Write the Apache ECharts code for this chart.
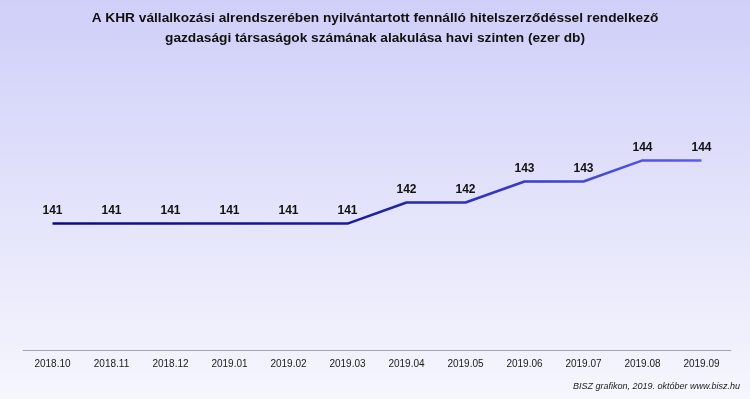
<!DOCTYPE html>
<html>
<head>
<meta charset="utf-8">
<script src="https://cdn.jsdelivr.net/npm/echarts@6/dist/echarts.min.js"></script>
<style>
  html, body { margin: 0; padding: 0; }
  #chart { width: 750px; height: 399px; }
</style>
</head>
<body>
<div id="chart"></div>
<script>
const months = ['2018.10', '2018.11', '2018.12', '2019.01', '2019.02', '2019.03',
  '2019.04', '2019.05', '2019.06', '2019.07', '2019.08', '2019.09'];
const companies = [141, 141, 141, 141, 141, 141, 142, 142, 143, 143, 144, 144];

const titleText = 'A KHR vállalkozási alrendszerében nyilvántartott fennálló hitelszerződéssel rendelkező\n'
  + 'gazdasági társaságok számának alakulása havi szinten (ezer db)';
const sourceText = 'BISZ grafikon, 2019. október www.bisz.hu';

const font = '"Liberation Sans", sans-serif';

const chart = echarts.init(document.getElementById('chart'));

chart.setOption({
  animation: false,
  backgroundColor: new echarts.graphic.LinearGradient(0, 0, 0, 1, [
    { offset: 0, color: '#cfcff9' },
    { offset: 1, color: '#f6f6fd' },
  ]),
  title: [
    {
      text: titleText,
      left: 'center',
      top: 8,
      padding: 0,
      textStyle: { fontFamily: font, fontSize: 13.7, fontWeight: 'bold', color: '#111', lineHeight: 20 },
    },
    {
      text: sourceText,
      right: 10,
      top: 382,
      padding: 0,
      textStyle: { fontFamily: font, fontSize: 9, fontStyle: 'italic', fontWeight: 'normal', color: '#222' },
    },
  ],
  grid: { left: 23, right: 19, top: 34, bottom: 49 },
  xAxis: {
    type: 'category',
    data: months,
    axisLine: { lineStyle: { color: '#a4a4b8', width: 1 } },
    axisTick: { show: false },
    axisLabel: { fontFamily: font, fontSize: 10, color: '#1a1a1a', margin: 9 },
  },
  yAxis: {
    type: 'value',
    min: 135,
    max: 150,
    show: false,
    splitLine: { show: false },
  },
  series: [
    {
      type: 'line',
      data: companies,
      symbol: 'circle',
      symbolSize: 1,
      itemStyle: { color: 'rgba(0,0,0,0)' },
      lineStyle: {
        width: 2.5,
        color: new echarts.graphic.LinearGradient(0, 0, 1, 0, [
          { offset: 0, color: '#0c0c80' },
          { offset: 0.45, color: '#1a1a9c' },
          { offset: 1, color: '#5c5cf2' },
        ]),
      },
      label: {
        show: true,
        position: 'top',
        distance: 6,
        fontFamily: font,
        fontSize: 12,
        fontWeight: 'bold',
        color: '#111',
      },
    },
  ],
});
</script>
</body>
</html>
